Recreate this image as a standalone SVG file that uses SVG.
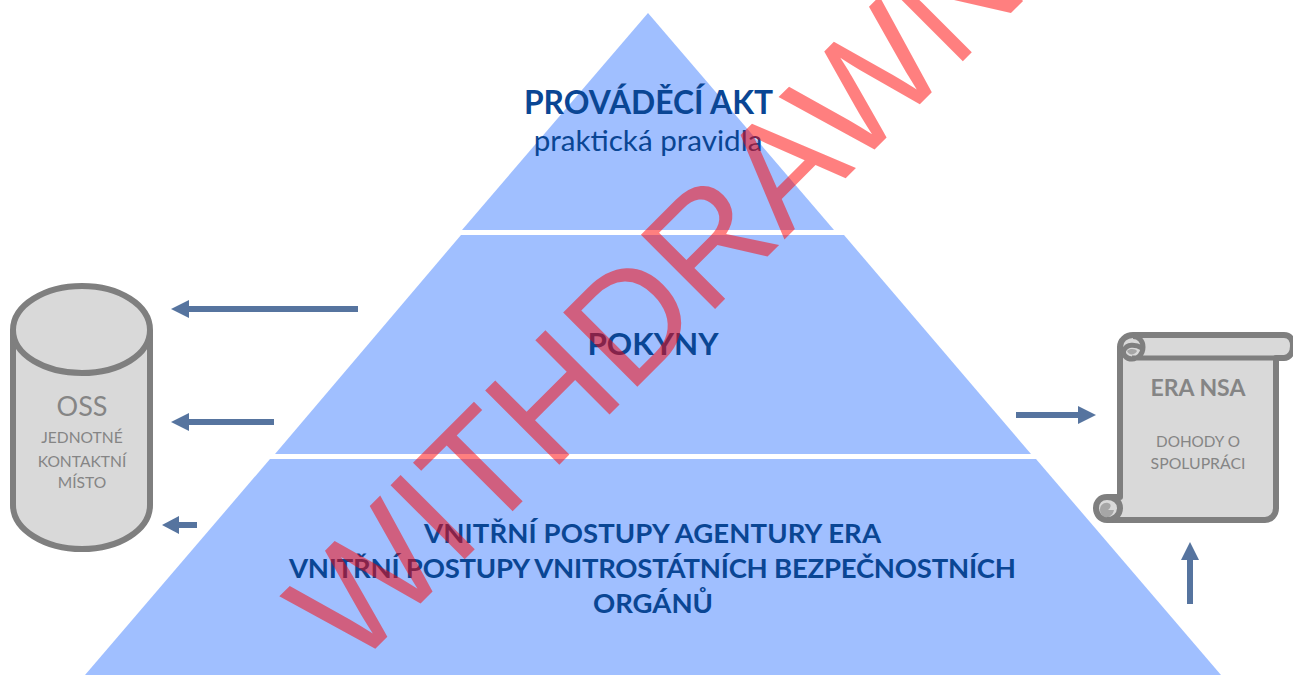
<svg xmlns="http://www.w3.org/2000/svg" width="1293" height="675" viewBox="0 0 1293 675">
<defs>
<style>
.tier{fill:#a0bfff}
.t{font-family:"Lato","Open Sans",sans-serif;text-anchor:middle}
.b{fill:#0a4694;font-weight:700}
.l{font-size:27.5px}
.g{fill:#858585}
.s{fill:#d9d9d9;stroke:#7f7f7f;stroke-width:6;stroke-linejoin:round}
.c{fill:none;stroke:#7f7f7f;stroke-width:6}
.m{fill:#a6a6a6}
.a{stroke:#56749f;stroke-width:6;fill:none}
.h{fill:#56749f}
</style>
</defs>
<rect width="1293" height="675" fill="#fff"/>
<g id="tier-top"><polygon class="tier" points="648,13 834,230 462,230"/>
<text class="t b" x="648.5" y="114" style="font-size:31.8px">PROVÁDĚCÍ AKT</text>
<text class="t" x="648" y="151" style="font-size:29.6px" fill="#0a4694">praktická pravidla</text></g>
<g id="tier-mid"><polygon class="tier" points="461,235 844,235 1031,454 275,454"/>
<text class="t b" x="653" y="355" style="font-size:31.4px">POKYNY</text></g>
<g id="tier-bottom"><polygon class="tier" points="270,459 1036,459 1221,675 85,675"/>
<text class="t b l" x="652.5" y="543" textLength="457">VNITŘNÍ POSTUPY AGENTURY ERA</text>
<text class="t b l" x="652.5" y="578" textLength="727">VNITŘNÍ POSTUPY VNITROSTÁTNÍCH BEZPEČNOSTNÍCH</text>
<text class="t b l" x="653" y="613" textLength="120">ORGÁNŮ</text></g>
<g id="oss">
<path class="s" d="M13 330C13 305 45 286 82 286C119 286 150 305 150 330V505C150 530 119 549 82 549C45 549 13 530 13 505Z"/>
<path class="c" d="M13 330C13 355 45 373 82 373C119 373 150 355 150 330"/>
<text class="t g" x="82" y="416" style="font-size:27px">OSS</text>
<text class="t g" x="82" y="443" style="font-size:15.6px">JEDNOTNÉ</text>
<text class="t g" x="82" y="467" style="font-size:15.6px">KONTAKTNÍ</text>
<text class="t g" x="82" y="488" style="font-size:15.6px">MÍSTO</text>
</g>
<g id="era-nsa">
<path class="s" d="M1120 358V347C1120 340 1126 335 1133 335H1284C1290 335 1293 339 1293 346C1293 352 1290 358 1284 358H1276V508C1276 515 1271 520 1265 520H1107C1100 520 1096 514 1096 508C1096 502 1100 497 1107 497H1120Z"/>
<path class="m" d="M1127 351C1130 348 1136 349 1137 351C1135 355 1129 356 1127 351Z"/>
<path class="c" style="stroke-width:5" d="M1133 336.500C1139 336.500 1143 341 1143 347C1143 354 1138 359 1132 359C1126 359 1122 354 1124 350C1127 344 1135 344 1142 348M1132 358H1276"/>
<path class="m" d="M1100 510C1100 505 1104 502 1108 503C1112 504 1111 508 1108 510H1114C1113 515 1109 518 1105 517C1102 516 1100 513 1100 510Z"/>
<path class="c" d="M1107 497C1114 497 1120 501 1120 508C1120 515 1114 520 1107 520"/>
<text class="t g" x="1198" y="396" style="font-size:23px;font-weight:700">ERA NSA</text>
<text class="t g" x="1198" y="447" style="font-size:15.3px">DOHODY O</text>
<text class="t g" x="1198" y="469" style="font-size:15.8px">SPOLUPRÁCI</text>
</g>
<g id="connectors">
<path class="a" d="M358 309H185"/><polygon class="h" points="171,309 189,300 189,318"/>
<path class="a" d="M274 422H185"/><polygon class="h" points="171,422 189,413 189,431"/>
<path class="a" d="M197 525H177"/><polygon class="h" points="162,525 179,516 179,534"/>
<path class="a" d="M1016 415H1082"/><polygon class="h" points="1096,415 1078,406 1078,424"/>
<path class="a" d="M1190 604V556"/><polygon class="h" points="1190,542 1181,560 1199,560"/>
</g>
<text id="watermark" transform="translate(353 671) rotate(-45)" font-family="Liberation Sans,Arial,sans-serif" font-size="152.500" fill="#ff0000" fill-opacity="0.5">WITHDRAWN</text>
</svg>
